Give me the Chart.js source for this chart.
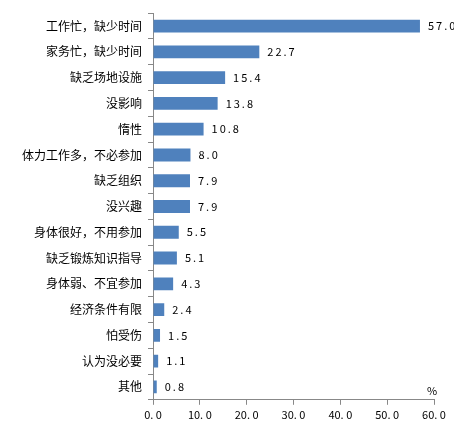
<!DOCTYPE html>
<html><head><meta charset="utf-8">
<script src="https://cdn.jsdelivr.net/npm/chart.js@4"></script>
<style>body{margin:0;background:#fff}#wrap{width:454px;height:444px}</style>
</head><body><div id="wrap"><canvas id="c"></canvas></div>
<script>
const categories = ['工作忙，缺少时间','家务忙，缺少时间','缺乏场地设施','没影响','惰性','体力工作多，不必参加','缺乏组织','没兴趣','身体很好，不用参加','缺乏锻炼知识指导','身体弱、不宜参加','经济条件有限','怕受伤','认为没必要','其他'];
const values = [57.0,22.7,15.4,13.8,10.8,8.0,7.9,7.9,5.5,5.1,4.3,2.4,1.5,1.1,0.8];
const xTicks = [0,10,20,30,40,50,60];

const font = '"Noto Sans CJK SC", sans-serif';

// value labels at bar ends plus the % unit
const labelPlugin = {
    id: 'labels',
    afterDatasetsDraw(chart) {
        const ctx = chart.ctx;
        ctx.save();
        ctx.fillStyle = '#000';
        ctx.font = '11px ' + font;
        ctx.letterSpacing = '2px';
        ctx.textBaseline = 'middle';
        chart.getDatasetMeta(0).data.forEach((bar, i) => {
            ctx.fillText(values[i].toFixed(1), bar.x + 8, bar.y);
        });
        const x = chart.scales.x;
        ctx.fillText('%', x.right - 7, x.top - 9);
        ctx.restore();
    }
};

new Chart(document.getElementById('c'), {
    type: 'bar',
    data: {
        labels: categories,
        datasets: [{ data: values, backgroundColor: '#4F81BD', barPercentage: 0.5, categoryPercentage: 1 }]
    },
    options: {
        indexAxis: 'y',
        responsive: true,
        maintainAspectRatio: false,
        animation: false,
        layout: { padding: { top: 6, right: 20, bottom: 20 } },
        plugins: { legend: { display: false }, tooltip: { enabled: false } },
        scales: {
            x: {
                min: 0, max: 60,
                afterBuildTicks: s => { s.ticks = xTicks.map(v => ({ value: v })); },
                grid: { display: true, drawOnChartArea: false, color: '#888', tickLength: 5 },
                border: { color: '#888' },
                ticks: { color: '#000', font: { size: 11, family: font }, callback: v => v.toFixed(1).replace('.', '. ') }
            },
            y: {
                afterFit: s => { s.width = 153; },
                grid: { display: true, drawOnChartArea: false, color: '#888', tickLength: 5, offset: true },
                border: { color: '#888' },
                ticks: { color: '#000', font: { size: 12, family: font }, padding: 6 }
            }
        }
    },
    plugins: [labelPlugin]
});
</script></body></html>
